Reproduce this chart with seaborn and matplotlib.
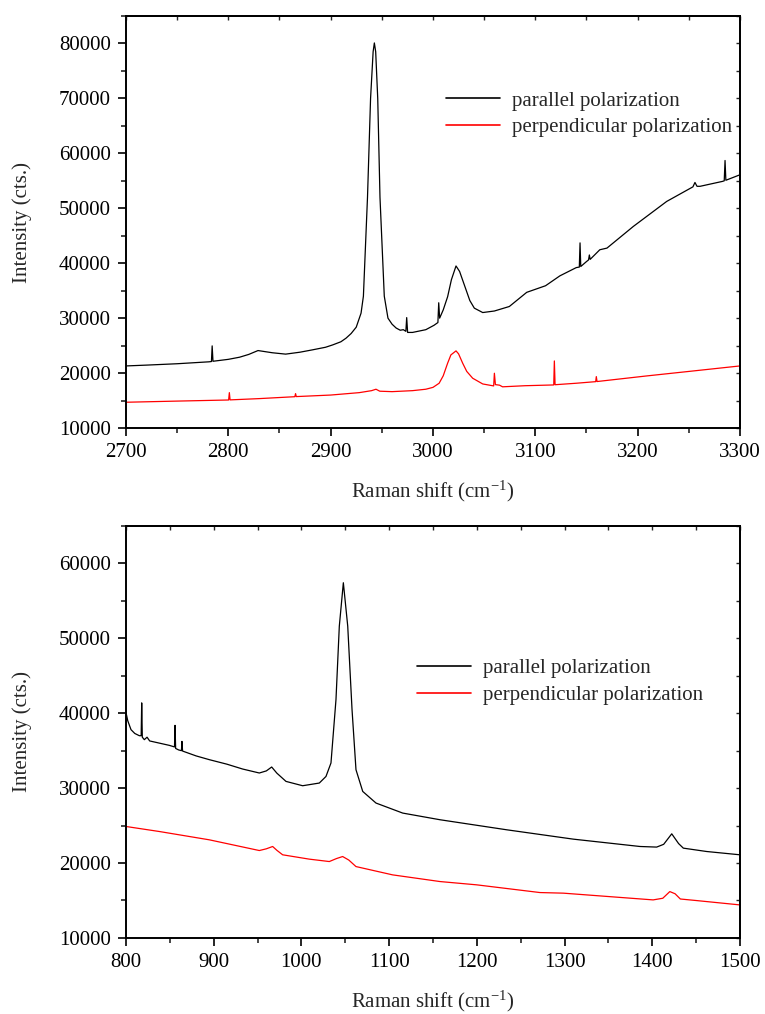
import matplotlib
matplotlib.use("Agg")
import matplotlib.pyplot as plt
import seaborn as sns
import pandas as pd
from matplotlib.ticker import MultipleLocator

# ---------------- data ----------------
# Top panel: C-H stretching region
top_par_x = [2700, 2720, 2750, 2781, 2783.5, 2784.2, 2785, 2800, 2811, 2820, 2829, 2836,
             2843, 2856, 2870, 2882, 2895, 2902, 2910, 2915, 2920, 2925, 2929.7, 2932,
             2936, 2939, 2941.5, 2942.7, 2944, 2946, 2948.2, 2952.4, 2956, 2960, 2964,
             2968, 2971, 2973.5, 2974.3, 2975.2, 2980, 2993, 3001, 3004.8, 3005.6, 3006.5,
             3010, 3014.3, 3018, 3022.5, 3026, 3032.3, 3036, 3040.4, 3048.6, 3060, 3074.6,
             3091.6, 3110, 3124, 3140, 3143, 3143.7, 3144.4, 3150, 3152, 3152.8, 3153.6,
             3163, 3170, 3195.8, 3228.4, 3254, 3256, 3258, 3261, 3283, 3284.6, 3285.4,
             3286.2, 3300]
top_par_y = [21300, 21450, 21700, 22050, 22100, 24950, 22150, 22500, 22890, 23400, 24100, 23900,
             23700, 23450, 23800, 24220, 24700, 25130, 25700, 26350, 27200, 28360, 30910, 34000,
             52000, 70000, 78500, 80100, 78500, 70000, 52000, 34000, 30000, 28900, 28200,
             27800, 27900, 27600, 30100, 27400, 27400, 27900, 28700, 29200, 32800, 30000,
             31500, 33900, 37000, 39500, 38500, 35160, 33200, 31820, 31020, 31300, 32120,
             34700, 35900, 37700, 39200, 39300, 43700, 39400, 40300, 40600, 41500, 40700,
             42450, 42750, 46700, 51250, 53900, 54700, 54000, 54000, 54900, 55000, 58700,
             55100, 56100]

top_perp_x = [2700, 2750, 2800.3, 2801, 2801.7, 2830, 2865, 2865.7, 2866.4, 2900, 2928, 2940,
              2944.3, 2948, 2960, 2980, 2993, 3000, 3006, 3010, 3014.3, 3017.5, 3022.5, 3025,
              3029, 3033, 3038.8, 3048.6, 3059.3, 3060, 3061, 3065, 3068, 3071.3, 3090,
              3118, 3118.6, 3119.3, 3140, 3159, 3159.6, 3160.3, 3208.8, 3250, 3300]
top_perp_y = [14690, 14900, 15100, 16440, 15120, 15350, 15700, 16260, 15720, 16000, 16440, 16800,
              17060, 16700, 16620, 16800, 17060, 17400, 18150, 19500, 21800, 23310, 24040, 23500,
              21800, 20300, 19060, 18020, 17660, 19970, 17900, 17800, 17500, 17530, 17700,
              17840, 22210, 17880, 18150, 18440, 19360, 18460, 19480, 20300, 21300]

# Bottom panel: fingerprint region
bot_par_x = [800, 802, 805.7, 810, 815.2, 817.3, 817.9, 818.6, 820.9, 824, 827, 849.4, 855.3,
             855.9, 856.6, 860, 863.2, 863.8, 864.5, 880, 895, 915, 933, 952, 960, 966.1,
             972, 982.4, 1001.4, 1020.4, 1028, 1033.7, 1039.4, 1043.2, 1047.8, 1052.8,
             1057.7, 1062.2, 1069.9, 1085, 1115.5, 1158, 1234, 1310, 1386, 1405, 1413,
             1422.2, 1430, 1435.4, 1462, 1500]
bot_par_y = [40100, 39000, 37810, 37300, 37000, 37000, 41380, 36800, 36470, 36800, 36300, 35710, 35500,
             38380, 35300, 35100, 35000, 36240, 34950, 34300, 33800, 33200, 32550, 32020, 32300, 32820,
             32000, 30900, 30320, 30680, 31560, 33360, 41820, 51620, 57420, 51620,
             40480, 32460, 29560, 28010, 26670, 25780, 24440, 23190, 22210, 22130, 22500,
             23900, 22600, 21990, 21540, 21100]

bot_perp_x = [800, 838, 895, 952, 960, 967.2, 972, 978.6, 1009, 1031.8, 1040, 1047, 1054, 1062.2,
              1104, 1158, 1199.8, 1272, 1298.6, 1401, 1412, 1420, 1426, 1432, 1450.6, 1500]
bot_perp_y = [24880, 24210, 23100, 21670, 21900, 22210, 21700, 21100, 20520, 20200, 20600, 20870, 20400, 19530,
              18420, 17530, 17090, 16060, 15980, 15080, 15300, 16190, 15900, 15200, 14990, 14410]

labels = ["parallel polarization", "perpendicular polarization"]
colors = ["black", "#ff0000"]

# ---------------- style ----------------
sns.set_theme(style="ticks")
plt.rcParams["font.family"] = ["Liberation Serif", "DejaVu Serif"]
plt.rcParams["mathtext.default"] = "regular"
plt.rcParams["axes.linewidth"] = 1.4

fig = plt.figure(figsize=(7.65, 10.14), dpi=100)
ax1 = fig.add_axes([0.1647, 0.5779, 0.8026, 0.4063])
ax2 = fig.add_axes([0.1647, 0.0750, 0.8026, 0.4063])

FS = 15


def draw(ax, series, xlim, ylim, xmajor, ymajor, legpos):
    for (xs, ys), lab, col in zip(series, labels, colors):
        df = pd.DataFrame({"x": xs, "y": ys})
        sns.lineplot(data=df, x="x", y="y", ax=ax, color=col, lw=0.9, label=lab,
                     estimator=None, sort=False)
    ax.set_xlim(*xlim)
    ax.set_ylim(*ylim)
    for axis, major in ((ax.xaxis, xmajor), (ax.yaxis, ymajor)):
        axis.set_major_locator(MultipleLocator(major))
        axis.set_minor_locator(MultipleLocator(major / 2))
    ax.tick_params(axis="both", which="major", direction="out", length=6, width=1.2,
                   labelsize=FS, colors="black", pad=5)
    ax.tick_params(axis="both", which="minor", direction="out", length=3.5, width=1.2)
    # short unlabeled ticks on the top and right frame
    sx = ax.secondary_xaxis("top")
    sy = ax.secondary_yaxis("right")
    for sec, axis, major in ((sx, sx.xaxis, xmajor), (sy, sy.yaxis, ymajor)):
        axis.set_major_locator(MultipleLocator(major))
        axis.set_minor_locator(MultipleLocator(major / 2))
        sec.tick_params(which="both", direction="in", length=3, width=1.0,
                        labeltop=False, labelright=False, labelbottom=False, labelleft=False)
        for sp in sec.spines.values():
            sp.set_linewidth(1.4)
    ax.set_xlabel(r"Raman shift (cm$^{-1}$)", fontsize=FS, labelpad=12)
    ax.set_ylabel("Intensity (cts.)", fontsize=FS, labelpad=19)
    for sp in ax.spines.values():
        sp.set_visible(True)
        sp.set_color("black")
    ax.grid(False)
    leg = ax.legend(loc="upper left", bbox_to_anchor=legpos, frameon=False, fontsize=FS,
                    handlelength=2.6, handletextpad=0.55, labelspacing=0.34,
                    borderpad=0, borderaxespad=0)
    for h in leg.get_lines():
        h.set_linewidth(1.2)


draw(ax1, [(top_par_x, top_par_y), (top_perp_x, top_perp_y)], (2700, 3300), (10000, 85000),
     100, 10000, (0.521, 0.818))
draw(ax2, [(bot_par_x, bot_par_y), (bot_perp_x, bot_perp_y)], (800, 1500), (10000, 65000),
     100, 10000, (0.474, 0.678))

fig.savefig("out.png", dpi=100)
